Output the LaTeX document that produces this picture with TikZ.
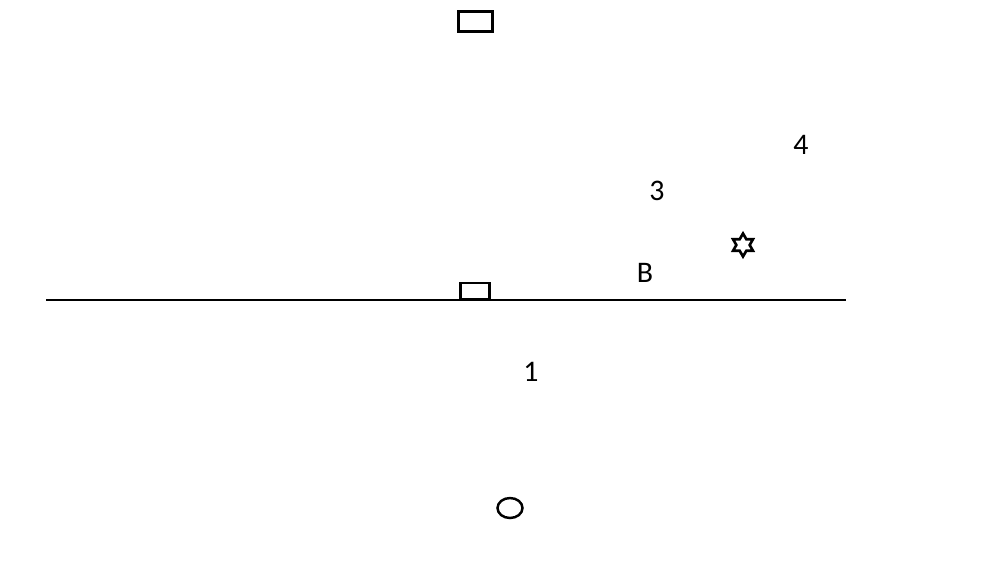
\documentclass[tikz,border=0pt]{standalone}
\usepackage{fontspec}
\setmainfont{Carlito}
\usetikzlibrary{shapes.geometric}

\begin{document}
\begin{tikzpicture}[x=0.02cm, y=-0.02cm,
		box node/.style={rectangle,draw,line width=1.6pt,inner sep=0pt},
		mark node/.style={star,star points=6,star point ratio=1.73,draw,line width=1.5pt,
			minimum size=0.46cm,inner sep=0pt},
		ball node/.style={ellipse,draw,line width=1.4pt,minimum width=0.5cm,minimum height=0.4cm,inner sep=0pt},
		text node/.style={font=\fontsize{17}{19}\selectfont,inner sep=0pt}]
	
	\useasboundingbox (0,0) rectangle (1000,562);
	
	\node[box node,minimum width=0.68cm,minimum height=0.4cm] (top) at (475.5,21.5) {};
	\coordinate (left) at (46,300);
	\coordinate (right) at (846,300);
	\draw[line width=1.4pt] (left) -- (right);
	\node[box node,minimum width=0.58cm,minimum height=0.32cm] (mid) at (475,291) {};
	
	\node[mark node] (hex) at (743,245) {};
	\node[ball node] (ball) at (510,508) {};
	
	\node[text node] (4) at (801,145) {4};
	\node[text node] (3) at (657,191) {3};
	\node[text node] (B) at (645,273) {B};
	\node[text node] (1) at (531,372) {1};
\end{tikzpicture}
\end{document}
